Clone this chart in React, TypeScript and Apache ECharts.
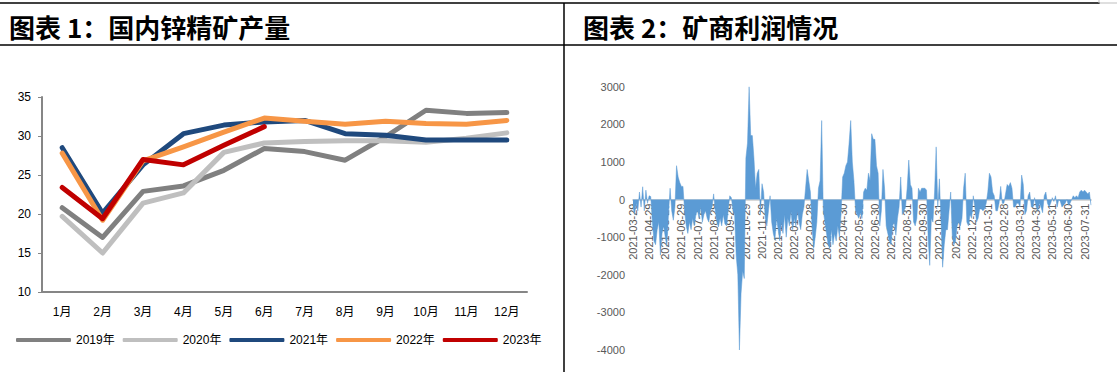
import React, { useEffect, useRef } from "react";
import * as echarts from "echarts";

const MONTHS = ["1月", "2月", "3月", "4月", "5月", "6月", "7月", "8月", "9月", "10月", "11月", "12月"];
const YEARS = ["2019年", "2020年", "2021年", "2022年", "2023年"];
const Y2019 = [20.8, 17.0, 22.9, 23.6, 25.6, 28.4, 28.0, 26.9, 29.9, 33.3, 32.9, 33.0];
const Y2020 = [19.7, 15.0, 21.4, 22.7, 27.9, 29.1, 29.3, 29.4, 29.4, 29.2, 29.7, 30.4];
const Y2021 = [28.5, 20.1, 26.3, 30.3, 31.4, 31.8, 32.0, 30.3, 30.1, 29.5, 29.5, 29.5];
const Y2022 = [27.8, 19.2, 26.8, 28.6, 30.5, 32.3, 31.9, 31.5, 31.9, 31.6, 31.5, 32.0];
const Y2023 = [23.4, 19.4, 27.0, 26.3, 28.8, 31.2];
const LINE_COLORS = ["#808080", "#bfbfbf", "#1f497d", "#f79646", "#c00000"];

const PROFIT_MONTH_LABELS = [
  "2021-03-29", "2021-04-29", "2021-05-29", "2021-06-29", "2021-07-29", "2021-08-29",
  "2021-09-29", "2021-10-29", "2021-11-29", "2021-12-29", "2022-01-29", "2022-02-28",
  "2022-03-31", "2022-04-30", "2022-05-31", "2022-06-30", "2022-07-31", "2022-08-31",
  "2022-09-30", "2022-10-31", "2022-11-30", "2022-12-31", "2023-01-31", "2023-02-28",
  "2023-03-31", "2023-04-30", "2023-05-31", "2023-06-30", "2023-07-31",
];
const SAMPLES_PER_MONTH = 10;
// profit samples, 10 per month starting at each label date
const PROFIT = [
  -200, -400, -100, -300, 200, -200, 340, -300, 250, -100,
  100, 80, -600, -1100, -1200, -800, -600, -1480, -900, -700,
  -1000, -1250, -400, 300, -300, -550, -200, 900, 600, 450,
  350, 350, -300, -700, -900, -600, -800, -500, -700, -400,
  -300, -500, -200, -600, -400, -300, -500, -600, -300, -200,
  150, -300, -600, -730, -500, -700, -400, -650, -700, -300,
  100, 50, -300, -400, -1500, -2000, -4000, -2500, -1900, -2100,
  1100, 1500, 3000, 1700, 1700, 1100, 300, 700, 800, -400,
  420, 200, -500, -700, -300, 100, -600, -900, -1080, -500,
  -800, -1100, -600, -900, -400, -1000, -500, -700, -300, -800,
  -500, -700, -300, -600, -800, -400, -200, 300, 800, 500,
  200, -700, -1300, -1000, -600, 300, 500, 2100, -300, -600,
  -900, -1200, -1300, -800, -1200, -900, -1100, -700, -1000, -400,
  600, 700, 900, 1000, 1500, 2100, 1000, 500, -300, -400,
  -500, -350, -500, 200, 300, 250, 700, 500, 1750, 1600,
  1600, 900, 700, -700, -300, 800, 300, -700, -900, -1100,
  -1200, -700, -600, -950, -500, -200, 600, -400, -300, -200,
  300, 1050, 400, 300, -600, -700, -500, 300, 200, 300,
  300, 300, 250, -1000, -1750, -500, -600, 200, 1400, -200,
  550, -600, -1800, -1200, -800, -800, -300, 200, -1000, -1200,
  -1100, -700, -600, -700, -500, 300, 700, -600, -700, -400,
  -500, 100, -200, -600, -500, -250, -250, -300, -250, -100,
  200, 700, 600, 200, 100, -300, -300, -100, 350, -100,
  -100, 150, 400, 350, 450, 300, -200, -200, -100, -100,
  -200, 650, 400, -400, -300, 100, 200, -200, -200, 50,
  -200, -300, -100, -200, -350, 100, 200, -100, -200, -100,
  50, -50, 100, -200, 0, -50, -200, -150, -100, 0,
  -150, -100, 0, 100, 50, 100, 50, 200, 250, 200,
  250, 200, 150, 200, -150,
];

const PROFIT_CATS = PROFIT.map((_, i) =>
  i % SAMPLES_PER_MONTH === 0 ? PROFIT_MONTH_LABELS[i / SAMPLES_PER_MONTH] : ""
);

const FONT = "'Liberation Sans', 'Noto Sans CJK SC', sans-serif";
const TITLE_FONT = "'Noto Sans CJK SC', sans-serif";

const P_MIN = -4000;
const P_MAX = 3000;
const P_TOP = 86.7;
const P_HEIGHT = 263.3;

export default function App() {
  const ref = useRef<HTMLDivElement>(null);
  useEffect(() => {
    if (!ref.current) return;
    const chart = echarts.init(ref.current, null, { renderer: "svg" });
    const yearData = [Y2019, Y2020, Y2021, Y2022, Y2023];
    const zeroOffset = -(P_HEIGHT * (0 - P_MIN)) / (P_MAX - P_MIN);
    chart.setOption({
      animation: false,
      backgroundColor: "#ffffff",
      textStyle: { fontFamily: FONT },
      graphic: [
        { type: "line", shape: { x1: 0, y1: 3, x2: 1100, y2: 3 }, style: { stroke: "#000", lineWidth: 1.5 } },
        { type: "rect", shape: { x: 1099, y: -1, width: 20, height: 4 }, style: { fill: "none", stroke: "#bfbfbf", lineWidth: 1 } },
        { type: "line", shape: { x1: 0, y1: 45, x2: 1117, y2: 45 }, style: { stroke: "#000", lineWidth: 1.5 } },
        { type: "line", shape: { x1: 564, y1: 3, x2: 564, y2: 372 }, style: { stroke: "#000", lineWidth: 1.5 } },
        {
          type: "text",
          x: 9,
          y: 26,
          style: { text: "图表 1：国内锌精矿产量", font: `bold 26px ${TITLE_FONT}`, fill: "#000", verticalAlign: "middle" },
        },
        {
          type: "text",
          x: 583,
          y: 26,
          style: { text: "图表 2：矿商利润情况", font: `bold 26px ${TITLE_FONT}`, fill: "#000", verticalAlign: "middle" },
        },
      ],
      legend: {
        left: 16,
        top: 334,
        padding: 0,
        icon: "roundRect",
        itemWidth: 55,
        itemHeight: 4,
        itemGap: 8,
        textStyle: { fontSize: 12, color: "#000", fontFamily: FONT },
        data: YEARS,
      },
      grid: [
        { left: 42, top: 97, width: 485, height: 195, outerBoundsMode: "none" },
        { left: 633, top: P_TOP, width: 458, height: P_HEIGHT, outerBoundsMode: "none" },
      ],
      xAxis: [
        {
          type: "category",
          gridIndex: 0,
          data: MONTHS,
          boundaryGap: true,
          axisLine: { lineStyle: { color: "#868686", width: 2 } },
          axisTick: { show: false },
          axisLabel: { color: "#000", fontSize: 12, margin: 14, interval: 0, fontFamily: FONT },
        },
        {
          type: "category",
          gridIndex: 1,
          data: PROFIT_CATS,
          boundaryGap: false,
          position: "bottom",
          offset: zeroOffset,
          axisLine: { onZero: false, lineStyle: { color: "#d9d9d9", width: 2 } },
          axisTick: { show: false },
          axisLabel: {
            rotate: 90,
            interval: 0,
            color: "#595959",
            fontSize: 11,
            margin: 4,
            fontFamily: FONT,
          },
        },
      ],
      yAxis: [
        {
          type: "value",
          gridIndex: 0,
          min: 10,
          max: 35,
          interval: 5,
          axisLine: { show: true, lineStyle: { color: "#868686", width: 2 } },
          axisTick: { show: true, length: 4, lineStyle: { color: "#868686", width: 1 } },
          splitLine: { show: false },
          axisLabel: { color: "#000", fontSize: 12, margin: 11, fontFamily: FONT },
        },
        {
          type: "value",
          gridIndex: 1,
          min: P_MIN,
          max: P_MAX,
          interval: 1000,
          axisLine: { show: false },
          axisTick: { show: false },
          splitLine: { show: false },
          axisLabel: {
            color: "#595959",
            fontSize: 11,
            margin: 8,
            fontFamily: FONT,
            formatter: (v: number) => String(v),
          },
        },
      ],
      series: [
        ...YEARS.map((name, i) => ({
          name,
          type: "line",
          xAxisIndex: 0,
          yAxisIndex: 0,
          data: yearData[i],
          symbol: "none",
          smooth: false,
          color: LINE_COLORS[i],
          lineStyle: { width: 5, color: LINE_COLORS[i], cap: "round", join: "round" },
        })),
        {
          name: "矿商利润",
          type: "line",
          xAxisIndex: 1,
          yAxisIndex: 1,
          data: PROFIT,
          symbol: "none",
          smooth: false,
          lineStyle: { width: 0.5, color: "#5b9bd5" },
          areaStyle: { color: "#5b9bd5", opacity: 1 },
          z: 1,
        },
      ],
    });
    return () => chart.dispose();
  }, []);
  return (
    <div
      ref={ref}
      style={{ position: "fixed", left: 0, top: 0, width: 1117, height: 372, background: "#fff" }}
    />
  );
}
